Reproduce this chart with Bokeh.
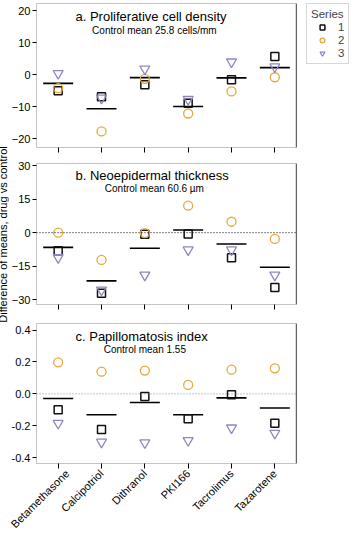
from math import pi
from bokeh.plotting import figure
from bokeh.layouts import row, column
from bokeh.models import (FactorRange, Range1d, Label, Legend, LegendItem, Span,
                          FixedTicker, NumeralTickFormatter, CustomLabelingPolicy)
from bokeh.embed import file_html
from bokeh.resources import INLINE

drugs = ["Betamethasone", "Calcipotriol", "Dithranol", "PKI166", "Tacrolimus", "Tazarotene"]
series_names = ["1", "2", "3"]

# a. Proliferative cell density
prolif_s1 = [-5.0, -6.9, -3.1, -8.9, -1.6, 5.7]
prolif_s2 = [-4.2, -17.7, -1.3, -12.1, -5.2, -0.8]
prolif_s3 = [0.4, -7.3, 1.8, -7.7, 4.0, 2.5]
prolif_mean = [-2.7, -10.6, -0.9, -9.9, -1.0, 2.2]

# b. Neoepidermal thickness
thick_s1 = [-8.1, -27.2, -0.7, -0.6, -11.2, -24.6]
thick_s2 = [0.0, -12.2, -0.2, 12.1, 4.9, -2.8]
thick_s3 = [-11.2, -25.7, -19.0, -7.7, -7.7, -19.0]
thick_mean = [-6.6, -21.6, -7.0, 1.2, -5.1, -15.5]

# c. Papillomatosis index
papil_s1 = [-0.100, -0.223, -0.017, -0.156, -0.006, -0.184]
papil_s2 = [0.198, 0.139, 0.146, 0.056, 0.152, 0.160]
papil_s3 = [-0.184, -0.302, -0.306, -0.292, -0.213, -0.246]
papil_mean = [-0.029, -0.131, -0.054, -0.131, -0.025, -0.088]

yticks_a = [-20, -10, 0, 10, 20]
yticks_b = [-30, -15, 0, 15, 30]
yticks_c = [-0.4, -0.2, 0.0, 0.2, 0.4]

FONT = "Liberation Sans"
C1, C2, C3 = "#111111", "#E8A83A", "#8E87C2"

xr = FactorRange(factors=drugs, range_padding=0)


def make_panel(s1, s2, s3, mean, yr, ticks, fh, bt, bb, br, title, sub, ty, sy, subx,
               zero=None, labels=False, fmt=None):
    p = figure(x_range=xr, y_range=yr, frame_width=260, frame_height=fh,
               min_border_left=27, min_border_right=br, min_border_top=bt,
               min_border_bottom=bb, toolbar_location=None, output_backend="svg",
               background_fill_color="white", border_fill_color="white")
    p.grid.visible = False
    p.outline_line_color = "#c4c4c4"
    p.outline_line_width = 1
    if zero is not None:
        p.add_layout(Span(location=0, dimension="width", line_color=zero,
                          line_dash="1 2", line_width=1))
    p.add_layout(Span(location=len(drugs), dimension="height", line_color="black",
                      line_width=1.3))
    p.scatter(drugs, mean, marker="dash", size=30, line_color="black", line_width=1.6)
    r1 = p.scatter(drugs, s1, marker="square", size=8, fill_color=None,
                   line_color=C1, line_width=1.5)
    r2 = p.scatter(drugs, s2, marker="circle", size=9, fill_color=None,
                   line_color=C2, line_width=1.3)
    r3 = p.scatter(drugs, s3, marker="inverted_triangle", size=10, fill_color=None,
                   line_color=C3, line_width=1.3)
    ya = p.yaxis[0]
    ya.ticker = FixedTicker(ticks=ticks)
    if fmt:
        ya.formatter = NumeralTickFormatter(format=fmt)
    ya.minor_tick_line_color = None
    ya.major_tick_in = 0
    ya.major_tick_out = 4
    ya.major_tick_line_color = "black"
    ya.axis_line_color = "#c4c4c4"
    ya.major_label_standoff = 2
    ya.major_label_text_font = FONT
    ya.major_label_text_font_size = "11px"
    ya.major_label_text_color = "black"
    xa = p.xaxis[0]
    xa.major_tick_in = 0
    xa.major_tick_out = 5
    xa.major_tick_line_color = "black"
    xa.axis_line_color = "#c4c4c4"
    if labels:
        xa.major_label_orientation = pi / 4
        xa.major_label_text_font = FONT
        xa.major_label_text_font_size = "11px"
        xa.major_label_text_color = "black"
        xa.major_label_standoff = 3
    else:
        xa.major_label_policy = CustomLabelingPolicy(code="return []")
        xa.major_label_text_font_size = "0px"
        xa.major_label_standoff = 0
    p.add_layout(Label(x=0.9, y=ty, text=title, text_align="left", text_baseline="middle",
                       text_font=FONT, text_font_size="13px", text_color="black"))
    p.add_layout(Label(x=subx, y=sy, text=sub, text_align="center", text_baseline="middle",
                       text_font=FONT, text_font_size="10px", text_color="black"))
    return p, (r1, r2, r3)


pa, rend = make_panel(prolif_s1, prolif_s2, prolif_s3, prolif_mean, Range1d(-22.7, 22.2),
                      yticks_a, 144, 3, 8, 60, "a. Proliferative cell density",
                      "Control mean 25.8 cells/mm", 18.1, 13.9, 2.72)
pb, _ = make_panel(thick_s1, thick_s2, thick_s3, thick_mean, Range1d(-32.2, 31.0),
                   yticks_b, 141, 8, 11, 60, "b. Neoepidermal thickness",
                   "Control mean 60.6 \u00b5m", 25.8, 20.0, 2.72, zero="black")
pc, _ = make_panel(papil_s1, papil_s2, papil_s3, papil_mean, Range1d(-0.436, 0.441),
                   yticks_c, 140, 8, 72, 60, "c. Papillomatosis index",
                   "Control mean 1.55", 0.361, 0.277, 2.50, zero="#888888",
                   labels=True, fmt="0.0")

legend = Legend(items=[LegendItem(label=n, renderers=[r]) for n, r in zip(series_names, rend)],
                location=(10, 83), title="Series", margin=0, padding=4, spacing=1,
                label_height=12, label_width=6, glyph_height=12, glyph_width=22,
                label_standoff=5, title_standoff=1, border_line_color="#b0b0b0",
                border_line_width=1,
                label_text_font=FONT, label_text_font_size="11.5px",
                title_text_font=FONT, title_text_font_size="11.5px",
                title_text_font_style="normal", background_fill_color="white")
pa.add_layout(legend, "right")

lab = figure(width=20, height=535, x_range=Range1d(0, 1), y_range=Range1d(0, 1),
             toolbar_location=None, output_backend="svg", min_border=0,
             x_axis_location=None, y_axis_location=None, outline_line_color=None)
lab.grid.visible = False
lab.add_layout(Label(x=0.52, y=0.5626, text="Difference of means, drug vs control",
                     angle=pi / 2, text_align="center", text_baseline="middle",
                     text_font=FONT, text_font_size="11px", text_color="black"))

panels = column(pa, pb, pc, styles={"margin-left": "-4px"})
layout = row(lab, panels, styles={"margin-left": "-8px", "margin-top": "0px"})

open("out.html", "w").write(file_html(layout, INLINE))
